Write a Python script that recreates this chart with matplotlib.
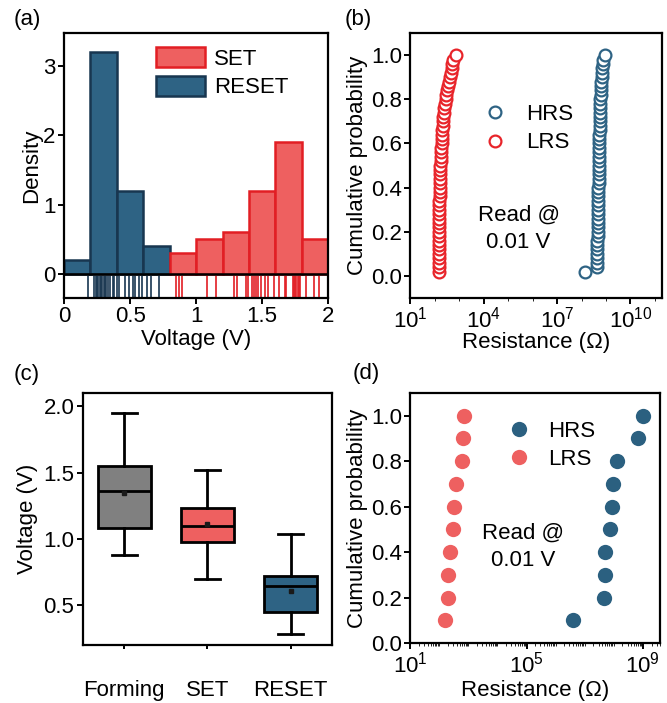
import numpy as np
import matplotlib.pyplot as plt
from matplotlib.patches import Patch
from matplotlib.ticker import LogLocator, NullFormatter

plt.rcParams['font.family'] = ['Liberation Sans', 'DejaVu Sans']
plt.rcParams['mathtext.fontset'] = 'custom'
plt.rcParams['mathtext.rm'] = 'Liberation Sans'
plt.rcParams['mathtext.default'] = 'regular'
plt.rcParams['font.size'] = 16
plt.rcParams['axes.linewidth'] = 1.6

# colours
SET_FILL, SET_EDGE = '#EE6060', '#E21E24'
RESET_FILL, RESET_EDGE = '#2E6384', '#183650'

# (a) histogram, density per 0.2 V bin
reset_bins = [0.0, 0.2, 0.4, 0.6]
reset_density = [0.2, 3.2, 1.2, 0.4]
set_bins = [0.8, 1.0, 1.2, 1.4, 1.6, 1.8]
set_density = [0.3, 0.5, 0.6, 1.2, 1.9, 0.5]
reset_rug = [0.18, 0.23, 0.24, 0.25, 0.26, 0.27, 0.28, 0.29, 0.30, 0.31, 0.32, 0.33,
             0.35, 0.37, 0.38, 0.40, 0.42, 0.46, 0.49, 0.52, 0.54, 0.57, 0.59, 0.63,
             0.66, 0.72]
set_rug = [0.85, 0.87, 0.89, 1.08, 1.15, 1.29, 1.31, 1.38, 1.39, 1.42, 1.435, 1.45,
           1.47, 1.49, 1.52, 1.545, 1.59, 1.63, 1.67, 1.68, 1.73, 1.74, 1.75, 1.76,
           1.77, 1.78, 1.79, 1.83, 1.89, 1.93]

# (b) cumulative distribution, 50 cycles
prob_b = [0.02, 0.04, 0.06, 0.08, 0.10, 0.12, 0.14, 0.16, 0.18, 0.20,
          0.22, 0.24, 0.26, 0.28, 0.30, 0.32, 0.34, 0.36, 0.38, 0.40,
          0.42, 0.44, 0.46, 0.48, 0.50, 0.52, 0.54, 0.56, 0.58, 0.60,
          0.62, 0.64, 0.66, 0.68, 0.70, 0.72, 0.74, 0.76, 0.78, 0.80,
          0.82, 0.84, 0.86, 0.88, 0.90, 0.92, 0.94, 0.96, 0.98, 1.00]
lrs_b = [155, 151, 148, 148, 145, 145, 145, 145, 148, 148,
         148, 151, 151, 151, 155, 155, 155, 158, 158, 162,
         162, 166, 166, 170, 170, 174, 178, 182, 186, 191,
         195, 200, 204, 214, 219, 229, 240, 251, 263, 282,
         302, 324, 347, 372, 407, 447, 490, 525, 575, 759]
hrs_b = [1.45e8, 4.17e8, 4.27e8, 4.37e8, 4.37e8, 4.47e8, 4.47e8, 4.47e8, 4.57e8, 4.57e8,
         4.57e8, 4.68e8, 4.68e8, 4.68e8, 4.79e8, 4.79e8, 4.79e8, 4.90e8, 4.90e8, 4.90e8,
         5.01e8, 5.01e8, 5.01e8, 5.13e8, 5.13e8, 5.13e8, 5.25e8, 5.25e8, 5.25e8, 5.37e8,
         5.37e8, 5.37e8, 5.50e8, 5.50e8, 5.62e8, 5.62e8, 5.75e8, 5.75e8, 5.89e8, 5.89e8,
         6.03e8, 6.17e8, 6.31e8, 6.46e8, 6.61e8, 6.76e8, 6.92e8, 7.24e8, 7.59e8, 8.71e8]

# (c) box statistics
box_labels = ['Forming', 'SET', 'RESET']
box_whislo = [0.875, 0.695, 0.28]
box_q1 = [1.08, 0.98, 0.45]
box_med = [1.36, 1.095, 0.645]
box_q3 = [1.55, 1.23, 0.72]
box_whishi = [1.95, 1.52, 1.035]
box_mean = [1.345, 1.11, 0.605]
box_colors = ['#808080', SET_FILL, RESET_FILL]

# (d) cumulative distribution, 10 devices
prob_d = [0.1, 0.2, 0.3, 0.4, 0.5, 0.6, 0.7, 0.8, 0.9, 1.0]
lrs_d = [152, 200, 200, 228, 288, 320, 375, 605, 655, 730]
hrs_d = [3.9e6, 4.6e7, 5.1e7, 5.2e7, 7.5e7, 9.0e7, 9.5e7, 1.26e8, 6.9e8, 1.05e9]

fig = plt.figure(figsize=(6.67, 7.03), dpi=100)
ax_a = fig.add_axes([0.096, 0.576, 0.396, 0.377])
ax_b = fig.add_axes([0.615, 0.576, 0.378, 0.377])
ax_c = fig.add_axes([0.124, 0.0825, 0.374, 0.3585])
ax_d = fig.add_axes([0.615, 0.085, 0.375, 0.356])

# ---- (a)
ax_a.bar(reset_bins, reset_density, width=0.2, align='edge', color=RESET_FILL,
         edgecolor=RESET_EDGE, linewidth=1.8, label='RESET')
ax_a.bar(set_bins, set_density, width=0.2, align='edge', color=SET_FILL,
         edgecolor=SET_EDGE, linewidth=1.8, label='SET')
ax_a.vlines(reset_rug, -0.33, -0.03, color=RESET_EDGE, linewidth=1.2)
ax_a.vlines(set_rug, -0.33, -0.03, color=SET_EDGE, linewidth=1.2)
ax_a.axhline(0, color='black', linewidth=1.8)
ax_a.set_xlim(0, 2)
ax_a.set_ylim(-0.35, 3.48)
ax_a.set_xticks([0, 0.5, 1, 1.5, 2])
ax_a.set_xticklabels(['0', '0.5', '1', '1.5', '2'])
ax_a.set_yticks([0, 1, 2, 3])
ax_a.set_xlabel('Voltage (V)', labelpad=1)
ax_a.set_ylabel('Density', labelpad=1)
handles = [Patch(facecolor=SET_FILL, edgecolor=SET_EDGE, linewidth=1.8),
           Patch(facecolor=RESET_FILL, edgecolor=RESET_EDGE, linewidth=1.8)]
ax_a.legend(handles, ['SET', 'RESET'], loc='center', bbox_to_anchor=(0.6, 0.85),
            frameon=False, handlelength=2.2, handleheight=1.0, handletextpad=0.4,
            labelspacing=0.28, fontsize=16)

# ---- (b)
ax_b.plot(hrs_b, prob_b, 'o', mfc='white', mec=RESET_FILL, ms=8.5, mew=1.6, label='HRS')
ax_b.plot(lrs_b, prob_b, 'o', mfc='white', mec='#E8242A', ms=8.5, mew=1.6, label='LRS')
ax_b.set_xscale('log')
ax_b.set_xlim(10, 2e11)
ax_b.set_ylim(-0.1, 1.1)
ax_b.set_xticks([1e1, 1e4, 1e7, 1e10])
ax_b.xaxis.set_minor_locator(LogLocator(base=10, subs=(1.0,), numticks=20))
ax_b.xaxis.set_minor_formatter(NullFormatter())
ax_b.set_yticks([0, 0.2, 0.4, 0.6, 0.8, 1.0])
ax_b.set_yticklabels(['0.0', '0.2', '0.4', '0.6', '0.8', '1.0'])
ax_b.set_xlabel('Resistance (Ω)', labelpad=0)
ax_b.set_ylabel('Cumulative probability', labelpad=2)
ax_b.legend(loc='center', bbox_to_anchor=(0.47, 0.64), frameon=False, fontsize=16,
            handletextpad=0.9, labelspacing=0.35, handlelength=1.0)
ax_b.text(0.43, 0.26, 'Read @\n0.01 V', transform=ax_b.transAxes, ha='center',
          va='center', fontsize=16, linespacing=1.4)

# ---- (c)
stats = []
for i in range(3):
    stats.append(dict(label=box_labels[i], whislo=box_whislo[i], q1=box_q1[i],
                      med=box_med[i], q3=box_q3[i], whishi=box_whishi[i],
                      mean=box_mean[i], fliers=[]))
bp = ax_c.bxp(stats, positions=[1, 2, 3], widths=0.64, patch_artist=True,
              showmeans=True, showfliers=False,
              boxprops=dict(linewidth=2, edgecolor='black'),
              medianprops=dict(color='black', linewidth=2),
              whiskerprops=dict(color='black', linewidth=2),
              capprops=dict(color='black', linewidth=2),
              meanprops=dict(marker='s', markersize=2.5, markerfacecolor='#1a1a1a',
                             markeredgecolor='#1a1a1a'))
for patch, c in zip(bp['boxes'], box_colors):
    patch.set_facecolor(c)
for cap in bp['caps']:
    xd = cap.get_xdata()
    mid = (xd[0] + xd[1]) / 2
    cap.set_xdata([mid - 0.15, mid + 0.15])
ax_c.set_xlim(0.5, 3.5)
ax_c.set_ylim(0.2, 2.1)
ax_c.set_yticks([0.5, 1.0, 1.5, 2.0])
ax_c.set_yticklabels(['0.5', '1.0', '1.5', '2.0'])
ax_c.set_ylabel('Voltage (V)', labelpad=4)

# ---- (d)
ax_d.plot(hrs_d, prob_d, 'o', color='#2B6080', ms=11, mew=0, label='HRS')
ax_d.plot(lrs_d, prob_d, 'o', color=SET_FILL, ms=11, mew=0, label='LRS')
ax_d.set_xscale('log')
ax_d.set_xlim(10, 4e9)
ax_d.set_ylim(0, 1.1)
ax_d.set_xticks([1e1, 1e5, 1e9])
ax_d.xaxis.set_minor_locator(LogLocator(base=10, subs=np.arange(1, 10), numticks=20))
ax_d.xaxis.set_minor_formatter(NullFormatter())
ax_d.set_yticks([0, 0.2, 0.4, 0.6, 0.8, 1.0])
ax_d.set_yticklabels(['0.0', '0.2', '0.4', '0.6', '0.8', '1.0'])
ax_d.set_xlabel('Resistance (Ω)', labelpad=2)
ax_d.set_ylabel('Cumulative probability', labelpad=2)
ax_d.legend(loc='center', bbox_to_anchor=(0.56, 0.79), frameon=False, fontsize=16,
            handletextpad=0.7, labelspacing=0.3, handlelength=1.2)
ax_d.text(0.45, 0.385, 'Read @\n0.01 V', transform=ax_d.transAxes, ha='center',
          va='center', fontsize=16, linespacing=1.4)

for ax in (ax_a, ax_b, ax_c, ax_d):
    ax.tick_params(width=1.4, length=4, pad=2)
ax_c.tick_params(axis='x', length=3, pad=22)

fig.text(0.02, 0.972, '(a)', fontsize=16, va='center')
fig.text(0.517, 0.972, '(b)', fontsize=16, va='center')
fig.text(0.02, 0.467, '(c)', fontsize=16, va='center')
fig.text(0.529, 0.469, '(d)', fontsize=16, va='center')

fig.savefig('out.png', dpi=100)
